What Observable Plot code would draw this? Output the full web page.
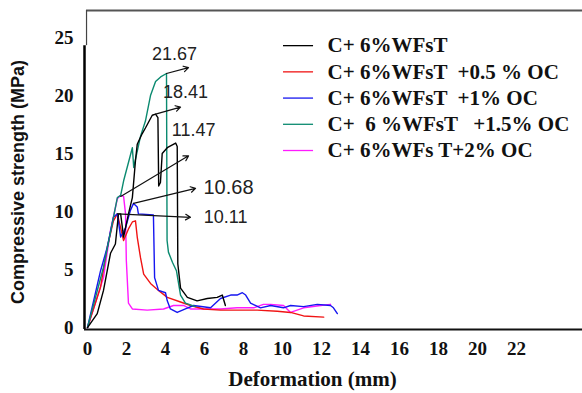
<!DOCTYPE html>
<html><head><meta charset="utf-8">
<script src="https://cdn.jsdelivr.net/npm/d3@7"></script>
<script src="https://cdn.jsdelivr.net/npm/@observablehq/plot@0.6"></script>
<style>
body{margin:0;background:#fff}
#chart{position:relative;width:582px;height:393px}
#chart svg text{white-space:pre}
</style>
</head><body><div id="chart"></div>
<script>
// ---- data ----
const seriesNames = ["C+ 6%WFsT", "C+ 6%WFsT  +0.5 % OC", "C+ 6%WFsT  +1% OC", "C+  6 %WFsT   +1.5% OC", "C+ 6%WFs T+2% OC"];
const seriesColors = ["#000000", "#f01414", "#1616f0", "#0b8a70", "#ff1aff"];

const blackX = [0,0.50,0.82,1.18,1.43,1.59,1.70,1.85,2.10,2.30,2.46,2.55,2.80,2.97,3.32,3.49,3.61,3.65,3.74,3.83,4.09,4.52,4.60,4.63,4.77,5.12,5.62,6.14,6.65,6.91,7.07];
const blackY = [0,1.2,3.2,6.4,7.2,9.8,9.8,7.8,9.8,11.2,14.4,15.8,16.7,17.2,18.3,18.4,18.1,12.2,12.5,15.0,15.5,15.9,15.6,5.5,3.4,2.6,2.3,2.5,2.6,2.8,1.9];

const redX = [0,0.67,1.01,1.33,1.53,1.85,2.10,2.30,2.46,2.55,2.72,2.88,3.23,3.64,4.09,4.77,5.28,5.95,6.82,7.67,8.70,9.73,10.41,11.08,12.11];
const redY = [0,3.5,6.9,9.2,9.8,7.5,8.5,9.1,9.2,7.8,6.0,4.6,3.8,3.2,2.6,2.2,1.9,1.6,1.5,1.5,1.5,1.4,1.3,1.0,0.9];

const blueX = [0,0.67,1.01,1.33,1.53,1.70,1.95,2.20,2.36,2.55,2.61,3.38,3.44,3.64,4.00,4.09,4.25,4.60,5.02,5.44,6.31,6.82,7.34,7.67,7.94,8.11,8.36,8.87,9.39,10.05,10.41,11.08,11.78,12.46,12.61,12.81];
const blueY = [0,4.9,6.9,9.5,9.8,7.8,8.6,10.1,10.7,10.4,9.8,9.7,4.3,3.2,3.0,2.3,1.6,1.3,1.6,1.9,1.7,2.5,2.8,2.8,3.0,2.8,2.1,1.7,1.9,1.7,1.9,1.8,2.0,1.9,1.7,1.2];

const greenX = [0,0.82,1.33,1.53,1.70,1.86,2.30,2.37,2.46,2.72,2.97,3.23,3.49,3.75,4.05,4.08,4.15,4.36,4.56,4.77,5.02,5.54];
const greenY = [0,5.2,9.5,11.2,11.4,12.7,15.5,13.8,14.5,16.5,17.8,20.0,21.2,21.6,21.9,7.5,6.5,5.6,4.9,2.8,2.1,1.8];

const pinkX = [0,0.82,1.18,1.53,1.70,1.85,1.95,1.99,2.10,2.30,3.06,3.90,4.41,4.92,5.28,5.95,6.82,7.67,8.52,9.02,9.39,10.05,10.41,11.08,11.95,12.46];
const pinkY = [0,4.3,8.4,11.1,11.4,11.3,9.8,5.8,2.1,1.6,1.5,1.6,1.9,1.9,1.6,1.6,1.6,1.7,1.7,2.0,2.0,1.9,1.3,1.7,1.9,2.0];

const xTicks = [0,2,4,6,8,10,12,14,16,18,20,22];
const yTicks = [0,5,10,15,20,25];

const annLabels = ["21.67","18.41","11.47","10.68","10.11"];
const annFromX = [4.05,3.49,1.70,2.36,1.53];
const annFromY = [21.9,18.4,11.3,10.7,9.8];
const annToX = [5.18,4.77,5.18,5.54,5.28];
const annToY = [22.4,19.0,14.8,12.0,9.5];
const annTextX = [4.46,5.03,5.44,7.23,7.08];
const annTextY = [23.6,20.3,17.0,12.1,9.5];

const xTitle = "Deformation (mm)";
const yTitle = "Compressive strength (MPa)";

// ---- build ----
const seriesXs = [blackX, redX, blueX, greenX, pinkX];
const seriesYs = [blackY, redY, blueY, greenY, pinkY];
const drawOrder = [4, 1, 2, 3, 0];

const xMin = -0.154, xMax = 25.38, yMin = -0.17, yMax = 27.33;
const serif = "'Liberation Serif','Times New Roman',serif";
const sans = "'Liberation Sans',Arial,sans-serif";

const lineMarks = drawOrder.map(k => {
  const pts = seriesXs[k].map((x, i) => ({x, y: seriesYs[k][i]}));
  return Plot.line(pts, {x: "x", y: "y", stroke: seriesColors[k], strokeWidth: 1.4, curve: "linear"});
});

const ann = annLabels.map((t, i) => ({t, x1: annFromX[i], y1: annFromY[i], x2: annToX[i], y2: annToY[i], tx: annTextX[i], ty: annTextY[i], fs: t === "10.68" ? 20 : 18}));

const legY0 = 24.3, legStep = 2.26;
const leg = seriesNames.map((name, i) => ({name, color: seriesColors[i], y: legY0 - i * legStep}));

const legendMarks = leg.map(d => Plot.ruleY([d.y], {x1: 10.05, x2: 11.59, stroke: d.color, strokeWidth: 1.3}));

const chart = Plot.plot({
  width: 582, height: 393,
  marginLeft: 84, marginRight: 0, marginTop: 10, marginBottom: 64,
  x: {domain: [xMin, xMax]},
  y: {domain: [yMin, yMax]},
  style: {background: "#fff", color: "#111"},
  marks: [
    Plot.axisX(xTicks, {tickSize: 0, tickPadding: 12, fontSize: 19, fontWeight: "bold", fontFamily: serif, label: null, fill: "#111"}),
    Plot.axisY(yTicks, {tickSize: 0, tickPadding: 11, fontSize: 19, fontWeight: "bold", fontFamily: serif, label: null, fill: "#111"}),
    // frame lines
    Plot.ruleY([yMax], {x1: -0.05, x2: xMax, stroke: "#555", strokeWidth: 2}),
    Plot.ruleX([-0.05], {y1: 24.3, y2: yMax, stroke: "#444", strokeWidth: 1.2}),
    Plot.ruleX([xMin], {y1: yMin, y2: 24.3, stroke: "#000", strokeWidth: 2.5}),
    Plot.ruleY([yMin], {x1: xMin, x2: xMax, stroke: "#111", strokeWidth: 2}),
    ...lineMarks,
    Plot.arrow(ann, {x1: "x1", y1: "y1", x2: "x2", y2: "y2", stroke: "#111", strokeWidth: 1.2, headLength: 7}),
    ...ann.map(d => Plot.text([d], {x: "tx", y: "ty", text: "t", fontSize: d.fs, fontFamily: sans, fill: "#222"})),
    ...legendMarks,
    Plot.text(leg, {x: 12.31, y: "y", text: "name", textAnchor: "start", fontSize: 21, fontWeight: "bold", fontFamily: serif, fill: "#111"}),
    Plot.text([xTitle], {frameAnchor: "bottom", dx: -21, dy: 56, fontSize: 21, fontWeight: "bold", fontFamily: serif, fill: "#111"}),
    Plot.text([yTitle], {frameAnchor: "left", textAnchor: "middle", rotate: -90, dx: -66, dy: 12, fontSize: 18, fontWeight: "bold", fontFamily: sans, fill: "#111"})
  ]
});
document.getElementById("chart").appendChild(chart);
</script>
</body></html>
